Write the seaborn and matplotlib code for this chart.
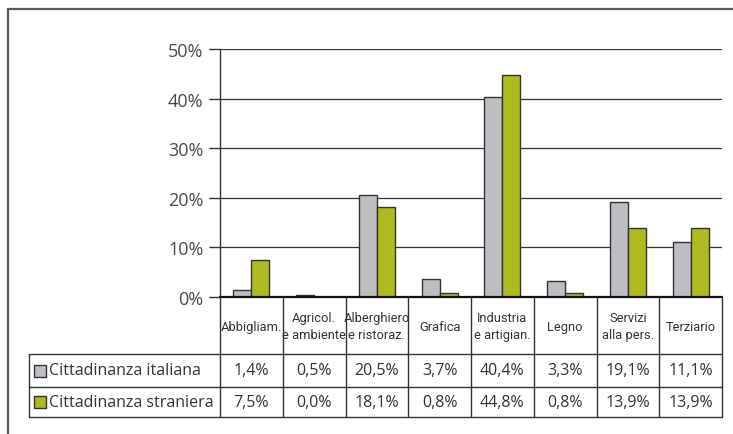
import pandas as pd
import seaborn as sns
import matplotlib.pyplot as plt
from matplotlib.lines import Line2D
from matplotlib.patches import Rectangle

# dati (percentuali)
settori = ["Abbigliam.", "Agricol.\ne ambiente", "Alberghiero\ne ristoraz.", "Grafica",
           "Industria\ne artigian.", "Legno", "Servizi\nalla pers.", "Terziario"]
serie = ["Cittadinanza italiana", "Cittadinanza straniera"]
italiana = [1.4, 0.5, 20.5, 3.7, 40.4, 3.3, 19.1, 11.1]
straniera = [7.5, 0.0, 18.1, 0.8, 44.8, 0.8, 13.9, 13.9]
y_ticks = [0, 10, 20, 30, 40, 50]

colori = ["#bdbec2", "#afba1e"]

sns.set_style("white")
plt.rcParams['font.family'] = ['Open Sans', 'DejaVu Sans']
font_cond = ['Roboto', 'DejaVu Sans']

df = pd.DataFrame({
    "settore": settori * 2,
    "serie": [serie[0]] * len(settori) + [serie[1]] * len(settori),
    "valore": italiana + straniera,
})

W, H = 733, 435
fig = plt.figure(figsize=(W / 100, H / 100), dpi=100)

def fx(px):
    return px / W

def fy(py):
    return 1 - py / H

# cornice esterna
fig.add_artist(Line2D([fx(8), fx(8)], [fy(10), 0], color="#5a5a5a", lw=1.6))
fig.add_artist(Line2D([fx(8), 1], [fy(10), fy(10)], color="#5a5a5a", lw=1.6))

x0, x1, y_top, y_base = 220, 722, 50, 298
ax = fig.add_axes([fx(x0), fy(y_base), fx(x1 - x0), (y_base - y_top) / H])
sns.barplot(data=df, x="settore", y="valore", hue="serie", palette=colori, saturation=1,
            width=0.57, edgecolor="#333333", linewidth=1.0, ax=ax, legend=False)
ax.set_ylim(0, 50)
ax.set_xlim(-0.5, len(settori) - 0.5)
ax.set_yticks(y_ticks)
ax.set_yticklabels([f"{t}%" for t in y_ticks], fontsize=13, color="#4a4a4a")
ax.set_xticks([])
ax.set_xlabel("")
ax.set_ylabel("")
for t in y_ticks[1:]:
    ax.axhline(t, color="#333333", lw=0.9, zorder=0)
for s in ["top", "right", "bottom"]:
    ax.spines[s].set_visible(False)
ax.spines["left"].set_color("#333333")
ax.spines["left"].set_linewidth(1.0)
ax.tick_params(axis="y", direction="out", length=8, width=1.0, color="#333333", pad=4, left=True)
ax.axhline(0, color="#111111", lw=1.6, zorder=5, clip_on=False)

# tabella dati
col_w = (x1 - x0) / len(settori)
tab_left = 29
tab = fig.add_axes([fx(tab_left), fy(418), fx(x1 - tab_left), (418 - y_base) / H])
tab.set_xlim(-0.5 - (x0 - tab_left) / col_w, len(settori) - 0.5)
tab.set_ylim(120, 0)
tab.axis("off")
righe = [0, 57, 90, 120]
lc = "#333333"
tab.plot([-0.5, len(settori) - 0.5], [righe[0], righe[0]], color="#111111", lw=1.2, clip_on=False)
for r in righe[1:]:
    tab.plot([tab.get_xlim()[0], len(settori) - 0.5], [r, r], color=lc, lw=1.0, clip_on=False)
for i in range(len(settori) + 1):
    tab.plot([i - 0.5, i - 0.5], [0, 120], color=lc, lw=1.0, clip_on=False)
tab.plot([tab.get_xlim()[0]] * 2, [righe[1], righe[3]], color=lc, lw=1.0, clip_on=False)

for i, s in enumerate(settori):
    tab.text(i, (righe[0] + righe[1]) / 2 + 1, s, ha="center", va="center", fontsize=9.3,
             family=font_cond, color="#333333", linespacing=1.4)
for j, (vals, nome) in enumerate([(italiana, serie[0]), (straniera, serie[1])]):
    yc = (righe[j + 1] + righe[j + 2]) / 2
    for i, v in enumerate(vals):
        tab.text(i, yc, f"{v:.1f}%".replace(".", ","), ha="center", va="center",
                 fontsize=11.5, color="#333333")
    xl = tab.get_xlim()[0]
    sw = 12 / col_w
    tab.add_patch(Rectangle((xl + 5 / col_w, yc - 6), sw, 12, facecolor=colori[j],
                            edgecolor="#333333", lw=1.0, clip_on=False))
    tab.text(xl + 20 / col_w, yc, nome, ha="left", va="center", fontsize=11.5, color="#333333")

fig.savefig("out.png", dpi=100)
